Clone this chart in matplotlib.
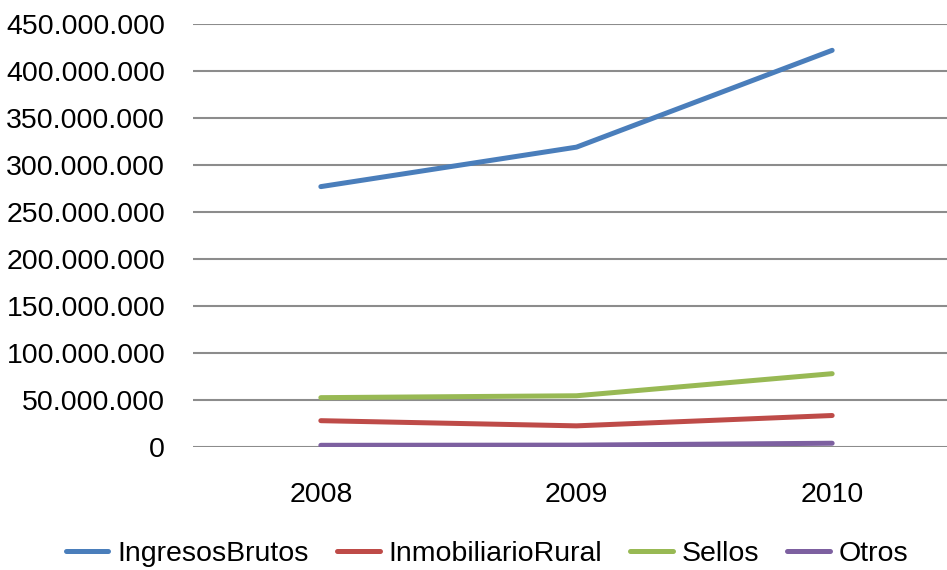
import matplotlib
matplotlib.use("Agg")
import matplotlib.pyplot as plt
from matplotlib.ticker import FuncFormatter, MultipleLocator

years = ["2008", "2009", "2010"]
ingresos_brutos = [277000000, 319000000, 422000000]
inmobiliario_rural = [28000000, 22500000, 33500000]
sellos = [52500000, 54500000, 78000000]
otros = [1800000, 2000000, 4000000]

series = [
	("IngresosBrutos", ingresos_brutos, "#4A7EBB"),
	("InmobiliarioRural", inmobiliario_rural, "#BE4B48"),
	("Sellos", sellos, "#98B954"),
	("Otros", otros, "#7D60A0"),
]

plt.rcParams["font.family"] = ["Liberation Sans", "DejaVu Sans"]
fs = 20.5

fig = plt.figure(figsize=(9.47, 5.70), dpi=100)
ax = fig.add_axes([193 / 947, 1 - 447 / 570, 1 - 193 / 947, (447 - 24) / 570])

x = list(range(len(years)))
for name, vals, col in series:
	ax.plot(x, vals, color=col, lw=3.6, label=name, solid_capstyle="round", solid_joinstyle="round")

ax.set_ylim(0, 450000000)
ax.set_xlim(-0.5, 2.5 - 13 / 256)
ax.yaxis.set_major_locator(MultipleLocator(50000000))
ax.yaxis.set_major_formatter(FuncFormatter(lambda v, p: f"{int(v):,}".replace(",", ".")))
ax.set_xticks(x)
ax.set_xticklabels(years)
ax.tick_params(axis="both", length=0, labelsize=fs, colors="black")
ax.tick_params(axis="x", pad=25)
ax.tick_params(axis="y", pad=20)
ax.grid(axis="y", color="#8C8C8C", lw=1.5)
ax.set_axisbelow(True)
for s in ax.spines.values():
	s.set_visible(False)

fig.legend(loc="center", bbox_to_anchor=(487 / 947, 1 - 554 / 570), ncol=4, frameon=False,
		   fontsize=fs, handlelength=1.5, handletextpad=0.3, columnspacing=1.0, borderpad=0)

fig.savefig("out.png", dpi=100)
